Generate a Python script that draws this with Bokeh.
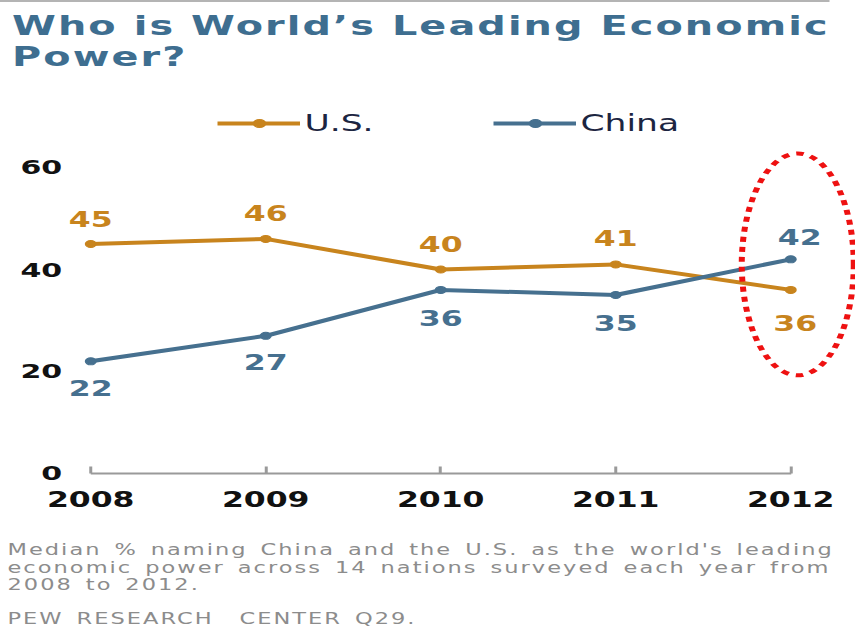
from bokeh.plotting import figure
from bokeh.models import Range1d, FixedTicker, Legend, LegendItem, Div, ColumnDataSource
from bokeh.layouts import column
from bokeh.embed import file_html
from bokeh.resources import INLINE
from bokeh.core.properties import value

# ---------------- data ----------------
years = [2008, 2009, 2010, 2011, 2012]
us_values = [45, 46, 40, 41, 36]
china_values = [22, 27, 36, 35, 42]
y_ticks = [0, 20, 40, 60]
series_names = ["U.S.", "China"]
title_lines = ["Who is World\u2019s Leading Economic", "Power?"]
note_lines = [
    "Median % naming China and the U.S. as the world's leading",
    "economic power across 14 nations surveyed each year from",
    "2008 to 2012.",
]
source_line = "PEW RESEARCH&nbsp; CENTER Q29."
highlight_year = years[-1]

# ---------------- styles ----------------
SX = 1.5          # horizontal stretch of the whole graphic
W = 570
US_COLOR = "#c8841d"
CN_COLOR = "#46708f"
TITLE_COLOR = "#3e6e90"
NOTE_COLOR = "#8c8c8c"
FONT = "DejaVu Sans"

us_dx = [0, 0, 0, 0, 3]
us_dy = [-25, -26, -26, -26, 33]
cn_dx = [0, 0, 0, 0, 6]
cn_dy = [27, 26, 28, 28, -22]

# ---------------- figure ----------------
p = figure(width=int(W / SX), height=440,
           x_range=Range1d(2007.8714, 2012.3714), y_range=Range1d(0, 74.12),
           output_backend="svg", toolbar_location=None,
           min_border_left=45, min_border_right=0, min_border_top=0, min_border_bottom=62)
p.outline_line_color = None
p.grid.visible = False
p.background_fill_color = "white"
p.border_fill_color = "white"

xa = p.xaxis[0]
xa.ticker = FixedTicker(ticks=years)
xa.bounds = (years[0], years[-1])
xa.axis_line_color = "#9a9a9a"
xa.axis_line_width = 2
xa.major_tick_line_color = "#9a9a9a"
xa.major_tick_line_width = 2
xa.major_tick_in = 7
xa.major_tick_out = 0
xa.minor_tick_line_color = None
xa.minor_tick_in = 0
xa.minor_tick_out = 0
xa.major_label_standoff = 18
xa.major_label_text_font = FONT
xa.major_label_text_font_style = "bold"
xa.major_label_text_font_size = "21px"
xa.major_label_text_color = "#111111"

ya = p.yaxis[0]
ya.ticker = FixedTicker(ticks=y_ticks)
ya.axis_line_color = None
ya.major_tick_line_color = None
ya.minor_tick_line_color = None
ya.major_tick_in = 0
ya.major_tick_out = 0
ya.minor_tick_in = 0
ya.minor_tick_out = 0
ya.major_label_standoff = 4
ya.major_label_text_font = FONT
ya.major_label_text_font_style = "bold"
ya.major_label_text_font_size = "20px"
ya.major_label_text_color = "#111111"

src_us = ColumnDataSource(dict(x=years, y=us_values, label=[str(v) for v in us_values], dx=us_dx, dy=us_dy))
src_cn = ColumnDataSource(dict(x=years, y=china_values, label=[str(v) for v in china_values], dx=cn_dx, dy=cn_dy))

r_us = p.line("x", "y", source=src_us, line_width=4, line_color=US_COLOR, line_join="round", line_cap="round")
m_us = p.scatter("x", "y", source=src_us, size=7, fill_color=US_COLOR, line_color=US_COLOR)
r_cn = p.line("x", "y", source=src_cn, line_width=4, line_color=CN_COLOR, line_join="round", line_cap="round")
m_cn = p.scatter("x", "y", source=src_cn, size=7, fill_color=CN_COLOR, line_color=CN_COLOR)

for src, col in ((src_us, US_COLOR), (src_cn, CN_COLOR)):
    p.text("x", "y", text="label", source=src, x_offset="dx", y_offset="dy",
           text_align="center", text_baseline="middle",
           text_font=value(FONT), text_font_style="bold", text_font_size="21px",
           text_color=col)

# highlight ellipse round the last year
hl_y = (us_values[-1] + china_values[-1]) / 2 + 2
p.ellipse(x=[highlight_year + 0.04], y=[hl_y], width=0.64, height=43.5,
          fill_color=None, line_color="#ee1111", line_width=4, line_dash="5 5")

def make_legend(name, renderers, loc):
    lg = Legend(items=[LegendItem(label=name, renderers=renderers)], location=loc,
                orientation="horizontal", padding=0, margin=0, spacing=0,
                glyph_width=55, glyph_height=20, label_standoff=3,
                label_text_font=FONT, label_text_font_size="23px",
                label_text_color="#1c2541", label_height=20,
                border_line_alpha=0, background_fill_alpha=0)
    p.add_layout(lg)

make_legend(series_names[0], [r_us, m_us], (100, 337))
make_legend(series_names[1], [r_cn, m_cn], (284, 337))

# ---------------- texts ----------------
title = Div(
    text=('<div style="border-top:2px solid #b4b4b4; padding:8px 0 0 8px; '
          f"font-family:'{FONT}'; font-weight:bold; font-size:26.5px; line-height:31px; "
          f'letter-spacing:1.4px; color:{TITLE_COLOR}; white-space:nowrap;">'
          + "<br>".join(title_lines) + "</div>"),
    width=W, height=95, margin=0)

foot = Div(
    text=(f'<div style="padding:7px 0 0 5px; font-family:\'{FONT}\'; font-size:15px; '
          f'letter-spacing:1.35px; word-spacing:2.5px; line-height:17.5px; color:{NOTE_COLOR}; white-space:nowrap;">'
          + "<br>".join(note_lines)
          + f'<div style="margin-top:16px;">{source_line}</div></div>'),
    width=W, height=104, margin=0)

layout = column(title, p, foot, spacing=0, margin=0,
                styles={"transform": f"scaleX({SX})", "transform-origin": "0 0"})

open("out.html", "w").write(file_html(layout, INLINE))
